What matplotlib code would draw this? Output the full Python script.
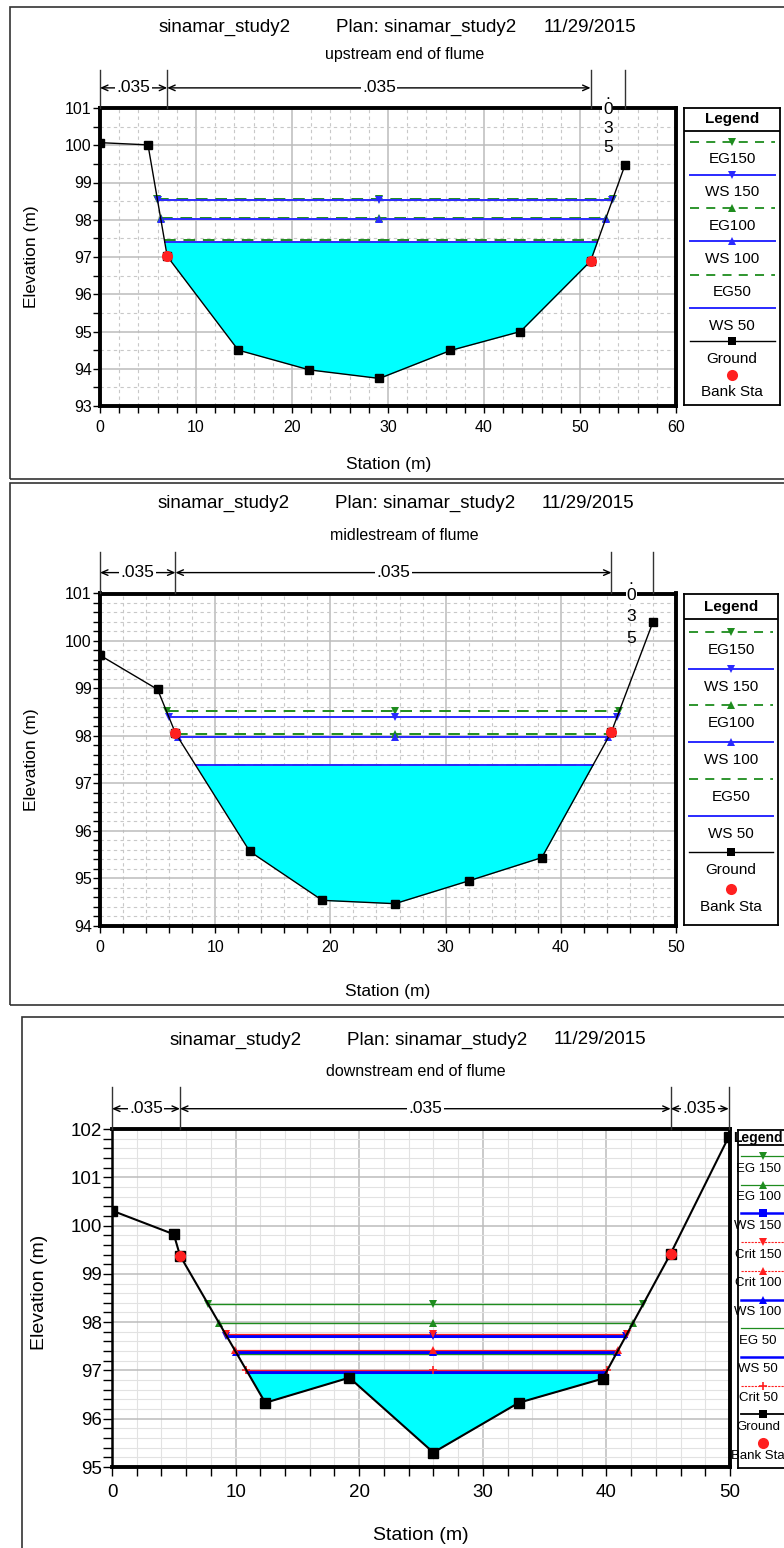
import numpy as np
import matplotlib
matplotlib.use('Agg')
import matplotlib.pyplot as plt
from matplotlib.patches import Rectangle
from matplotlib.ticker import MultipleLocator

plt.rcParams['font.family'] = ['Liberation Sans', 'DejaVu Sans']

W, H = 784, 1548

# ---- values ----
title_parts = ['sinamar_study2', 'Plan: sinamar_study2', '11/29/2015']
subtitles = ['upstream end of flume', 'midlestream of flume', 'downstream end of flume']
n_value = '.035'

# upstream end of flume
up_station = [0, 5.0, 7.0, 14.4, 21.8, 29.1, 36.5, 43.8, 51.1, 54.7]
up_ground = [100.07, 100.01, 97.02, 94.5, 93.97, 93.74, 94.49, 95.0, 96.89, 99.48]
up_bank = [7.0, 51.1]
up_eg = [98.56, 98.05, 97.45]   # Q 150, 100, 50
up_ws = [98.52, 98.02, 97.41]

# midstream of flume
mid_station = [0, 5.0, 6.55, 13.0, 19.3, 25.6, 32.0, 38.35, 44.4, 48.0]
mid_ground = [99.7, 98.98, 98.06, 95.57, 94.54, 94.47, 94.95, 95.44, 98.09, 100.4]
mid_bank = [6.55, 44.4]
mid_eg = [98.52, 98.04, 97.39]
mid_ws = [98.39, 97.97, 97.38]

# downstream end of flume
dn_station = [0, 5.0, 5.5, 12.4, 19.2, 26.0, 32.9, 39.7, 45.2, 49.9]
dn_ground = [100.31, 99.82, 99.38, 96.33, 96.85, 95.3, 96.33, 96.83, 99.42, 101.84]
dn_bank = [5.5, 45.2]
dn_eg = [98.38, 97.99, 97.33]
dn_ws = [97.72, 97.39, 96.97]
dn_crit = [97.75, 97.42, 97.01]

GREEN = '#1e8c1e'
BLUE = '#2a2aff'
RED = '#ff2020'
CYAN = '#00ffff'


def frac(x, y):
    return x / W, 1 - y / H


def rect(l, t, r, b):
    return [l / W, 1 - b / H, (r - l) / W, (b - t) / H]


def crossings(sta, elev, z):
    sta = np.asarray(sta, float)
    elev = np.asarray(elev, float)
    i0 = int(np.argmin(elev))
    i = i0
    while i > 0 and elev[i - 1] < z:
        i -= 1
    left = sta[0] if i == 0 else np.interp(z, [elev[i], elev[i - 1]], [sta[i], sta[i - 1]])
    j = i0
    while j < len(sta) - 1 and elev[j + 1] < z:
        j += 1
    right = sta[-1] if j == len(sta) - 1 else np.interp(z, [elev[j], elev[j + 1]], [sta[j], sta[j + 1]])
    return left, right


def draw_section(ax, sta, elev, bank, profiles, lowest_ws, gsize, gms):
    sta = np.asarray(sta, float)
    elev = np.asarray(elev, float)
    mid = sta[np.argmin(elev)]
    ax.fill_between(sta, elev, lowest_ws, where=elev <= lowest_ws, interpolate=True,
                    color=CYAN, lw=0, zorder=1)
    for z, col, ls, lw, mk in profiles:
        l, r = crossings(sta, elev, z)
        ax.plot([l, r], [z, z], color=col, ls=ls, lw=lw, zorder=3)
        if mk:
            ax.plot([l, mid, r], [z, z, z], ls='none', marker=mk, color=col, ms=5.5,
                    mew=1.2 if mk == '+' else 0, zorder=4)
    ax.plot(sta, elev, color='black', lw=gsize, marker='s', ms=gms, zorder=5)
    ax.plot(bank, np.interp(bank, sta, elev), ls='none', marker='o', color=RED, ms=7, zorder=6)


def style_axes(ax, xmax, ylo, yhi, yminor, fs, grid_minor_ls, spine_w, tlen, xpad, ypad):
    ax.set_xlim(0, xmax)
    ax.set_ylim(ylo, yhi)
    ax.xaxis.set_major_locator(MultipleLocator(10))
    ax.xaxis.set_minor_locator(MultipleLocator(2))
    ax.yaxis.set_major_locator(MultipleLocator(1))
    ax.yaxis.set_minor_locator(MultipleLocator(yminor))
    ax.grid(which='major', color='#bcbcbc', lw=1.1, ls='-', zorder=0)
    ax.grid(which='minor', color='#c8c8c8', lw=0.8, ls=grid_minor_ls, zorder=0)
    ax.set_axisbelow(True)
    ax.tick_params(which='both', direction='out', length=tlen, width=1, labelsize=fs)
    ax.tick_params(axis='x', which='both', pad=xpad)
    ax.tick_params(axis='y', which='both', pad=ypad)
    for s in ax.spines.values():
        s.set_linewidth(spine_w)


def manning(ax, bounds, y_arrow, y_top, vertical=None):
    ylo, yhi = ax.get_ylim()
    for b in bounds:
        ax.plot([b, b], [yhi, y_top], color='#333333', lw=1, clip_on=False, zorder=7)
    spans = list(zip(bounds[:-1], bounds[1:]))
    if vertical is not None:
        spans = spans[:-1]
    for a, b in spans:
        ax.annotate('', xy=(a, y_arrow), xytext=(b, y_arrow),
                    arrowprops=dict(arrowstyle='<->,head_length=0.45,head_width=0.2',
                                    color='black', lw=1, shrinkA=0, shrinkB=0),
                    annotation_clip=False)
        ax.text((a + b) / 2, y_arrow, n_value, ha='center', va='center', fontsize=12.5,
                bbox=dict(facecolor='white', edgecolor='none', pad=1), clip_on=False, zorder=8)
    if vertical is not None:
        xv, ys = vertical
        for ch, yv in zip(['.', '0', '3', '5'], ys):
            ax.text(xv, yv, ch, ha='center', va='center', fontsize=12.5, clip_on=False, zorder=8,
                    bbox=dict(facecolor='white', edgecolor='none', pad=0.5) if ch == '0' else None)


def legend_box(fig, box, entries, y0, step, dy, x_line, x_mark, x_text, fs, head_y, head_fs):
    l, t, r, b = box
    lg = fig.add_axes(rect(l, t, r, b))
    lg.set_xlim(l, r)
    lg.set_ylim(b, t)
    lg.set_xticks([])
    lg.set_yticks([])
    for s in lg.spines.values():
        s.set_linewidth(1.3)
    lg.plot([l, r], [head_y, head_y], color='black', lw=1.3)
    xt = (l + r) / 2 if x_text is None else x_text
    lg.text(xt, (t + head_y) / 2, 'Legend', ha='center', va='center',
            fontsize=head_fs, fontweight='bold')
    for k, (lab, col, ls, lw, mk) in enumerate(entries):
        y = y0 + k * step
        if ls != 'none':
            lg.plot(x_line, [y, y], color=col, ls=ls, lw=lw)
        if mk:
            ms = 8 if mk == 'o' else 5.5
            lg.plot([x_mark], [y], marker=mk, color=col, ms=ms, ls='none', mew=1.2 if mk == '+' else 0)
        lg.text(xt, y + dy, lab, ha='center', va='center', fontsize=fs)


fig = plt.figure(figsize=(W / 100, H / 100), dpi=100)

# outer frames
for (l, t, r, b) in [(10, 7, 800, 479), (10, 483, 800, 1005), (22, 1017, 800, 1580)]:
    fig.add_artist(Rectangle(frac(l, b), (r - l) / W, (b - t) / H, transform=fig.transFigure,
                             fill=False, ec='#333333', lw=1.2))

# titles
for (ty, xs) in [(27, [225, 426, 590]), (503, [224, 425, 588]), (1040, [236, 437, 600])]:
    for part, x in zip(title_parts, xs):
        fig.text(*frac(x, ty), part, ha='center', va='center', fontsize=13.5)
for sub, (x, y) in zip(subtitles, [(405, 55), (404, 536), (416, 1072)]):
    fig.text(*frac(x, y), sub, ha='center', va='center', fontsize=11.5)

# --- panel 1 ---
ax1 = fig.add_axes(rect(100, 108, 676, 406))
style_axes(ax1, 60, 93, 101, 0.5, 11.5, (0, (3, 3)), 2.8, 5, 5, 1)
draw_section(ax1, up_station, up_ground, up_bank,
             [(up_eg[0], GREEN, (0, (6, 4)), 1.4, 'v'), (up_ws[0], BLUE, '-', 1.4, 'v'),
              (up_eg[1], GREEN, (0, (6, 4)), 1.4, '^'), (up_ws[1], BLUE, '-', 1.4, '^'),
              (up_eg[2], GREEN, (0, (6, 4)), 1.4, None), (up_ws[2], BLUE, '-', 1.4, None)],
             up_ws[2], 1.0, 5.5)
manning(ax1, [up_station[0], up_bank[0], up_bank[1], up_station[-1]], 101.54, 102.03,
        vertical=(52.9, [101.35, 100.97, 100.44, 99.93]))
fig.text(*frac(389, 465), 'Station (m)', ha='center', va='center', fontsize=12.5)
fig.text(*frac(32, 257), 'Elevation (m)', ha='center', va='center', rotation=90, fontsize=12.5)

# --- panel 2 ---
ax2 = fig.add_axes(rect(100, 593.5, 676, 926))
style_axes(ax2, 50, 94, 101, 0.2, 11.5, (0, (3, 3)), 2.8, 5, 5, 1)
draw_section(ax2, mid_station, mid_ground, mid_bank,
             [(mid_eg[0], GREEN, (0, (6, 4)), 1.4, 'v'), (mid_ws[0], BLUE, '-', 1.4, 'v'),
              (mid_eg[1], GREEN, (0, (6, 4)), 1.4, '^'), (mid_ws[1], BLUE, '-', 1.4, '^'),
              (mid_eg[2], GREEN, (0, (6, 4)), 1.4, None), (mid_ws[2], BLUE, '-', 1.4, None)],
             mid_ws[2], 1.0, 5.5)
manning(ax2, [mid_station[0], mid_bank[0], mid_bank[1], mid_station[-1]], 101.44, 101.88,
        vertical=(46.1, [101.3, 100.95, 100.52, 100.06]))
fig.text(*frac(388, 992), 'Station (m)', ha='center', va='center', fontsize=12.5)
fig.text(*frac(32, 760), 'Elevation (m)', ha='center', va='center', rotation=90, fontsize=12.5)

# --- panel 3 ---
ax3 = fig.add_axes(rect(112, 1129, 730, 1467))
style_axes(ax3, 50, 95, 102, 0.2, 13.5, '-', 2.8, 6.5, 6, 0.5)
ax3.grid(which='minor', color='#e2e2e2', lw=0.8, ls='-')
ax3.spines['left'].set_linewidth(1.8)
draw_section(ax3, dn_station, dn_ground, dn_bank,
             [(dn_eg[0], GREEN, '-', 1.0, 'v'), (dn_eg[1], GREEN, '-', 1.0, '^'),
              (dn_eg[2], GREEN, '-', 1.0, None),
              (dn_ws[0], '#0000ff', '-', 2.2, 'v'), (dn_ws[1], '#0000ff', '-', 2.2, '^'),
              (dn_ws[2], '#0000ff', '-', 2.2, None),
              (dn_crit[0], RED, '-', 0.9, 'v'), (dn_crit[1], RED, '-', 0.9, '^'),
              (dn_crit[2], RED, '-', 0.9, '+')],
             dn_ws[2], 1.5, 6.5)
manning(ax3, [dn_station[0], dn_bank[0], dn_bank[1], dn_station[-1]], 102.42, 102.87)
fig.text(*frac(421, 1535), 'Station (m)', ha='center', va='center', fontsize=14)
fig.text(*frac(40, 1292), 'Elevation (m)', ha='center', va='center', rotation=90, fontsize=14)

# legends
dash = (0, (5, 4))
leg12 = [('EG150', GREEN, dash, 1.3, 'v'), ('WS 150', BLUE, '-', 1.4, 'v'),
         ('EG100', GREEN, dash, 1.3, '^'), ('WS 100', BLUE, '-', 1.4, '^'),
         ('EG50', GREEN, dash, 1.3, None), ('WS 50', BLUE, '-', 1.4, None),
         ('Ground', 'black', '-', 1.0, 's'), ('Bank Sta', RED, 'none', 1, 'o')]
legend_box(fig, (684, 108, 780, 405), leg12, 141.5, 33.3, 17.5, [690, 775], 732, None, 11, 130.7, 11)
legend_box(fig, (684, 594, 778, 925), leg12, 632, 36.7, 18, [689, 773], 731, None, 11, 619, 11)
leg3 = [('EG 150', GREEN, '-', 0.9, 'v'), ('EG 100', GREEN, '-', 0.9, '^'),
        ('WS 150', '#0000ff', '-', 1.8, 's'), ('Crit 150', RED, (0, (2, 1)), 0.8, 'v'),
        ('Crit 100', RED, (0, (2, 1)), 0.8, '^'), ('WS 100', '#0000ff', '-', 1.8, '^'),
        ('EG 50', GREEN, '-', 0.9, None), ('WS 50', '#0000ff', '-', 1.8, None),
        ('Crit 50', RED, (0, (2, 1)), 0.8, '+'), ('Ground', 'black', '-', 1.3, 's'),
        ('Bank Sta', RED, 'none', 1, 'o')]
legend_box(fig, (737.5, 1130, 792, 1468), leg3, 1156, 28.7, 12.5, [741, 792], 763, 758, 9.5, 1145, 10)

fig.savefig('out.png', dpi=100)
